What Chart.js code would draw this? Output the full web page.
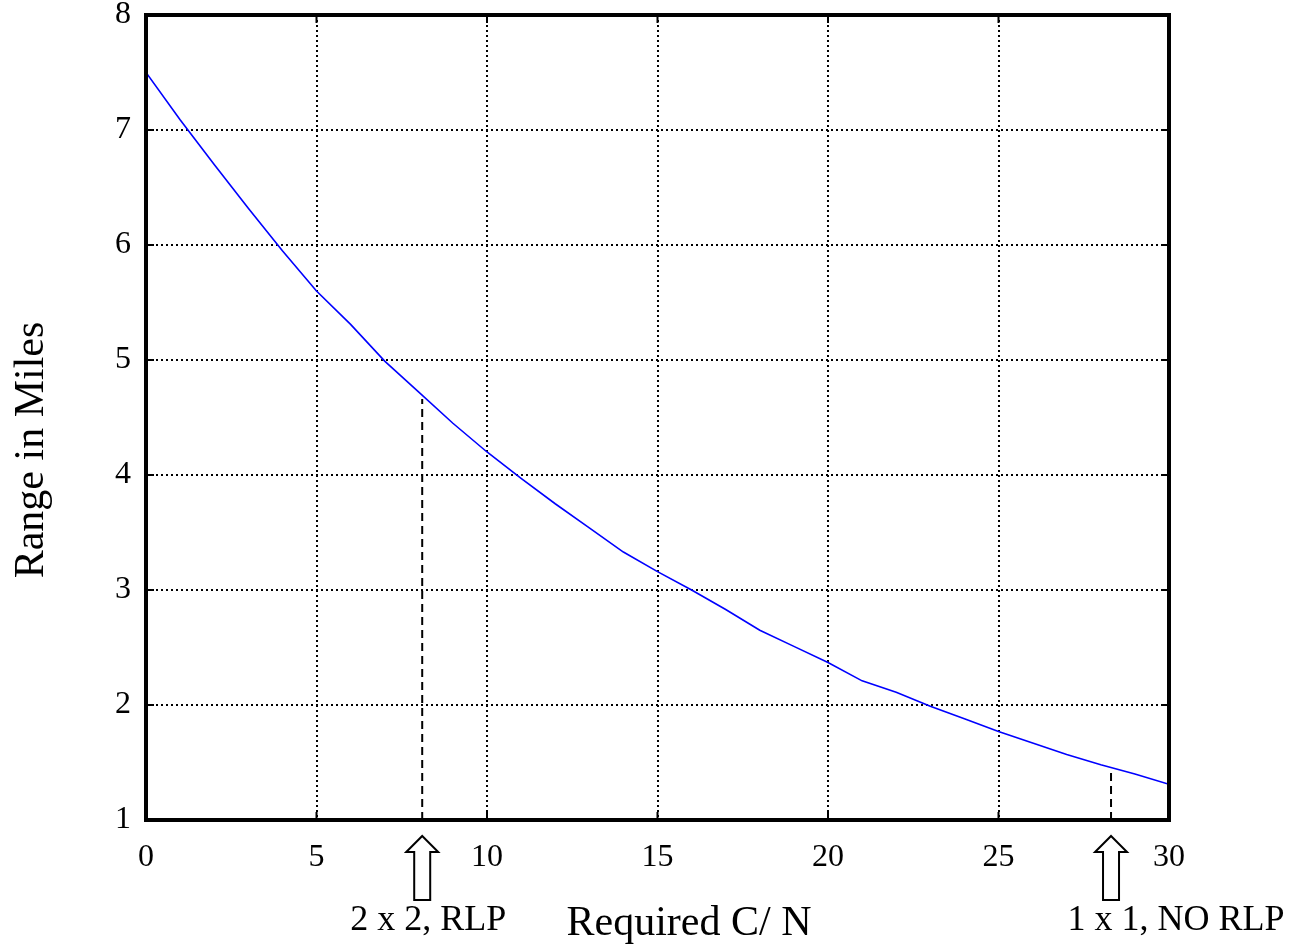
<!DOCTYPE html>
<html lang="en">
<head>
    <meta charset="UTF-8">
    <title>Range in Miles vs Required C/N</title>
    <script src="https://cdn.jsdelivr.net/npm/chart.js"></script>
    <style>
        body {
            margin: 0;
            background-color: white;
        }
        #rangeChart {
            display: block;
        }
    </style>
</head>
<body>
    <canvas id="rangeChart" width="1298" height="947"></canvas>

    <script>
        // values, one per integer C/N
        const cnValues = [0, 1, 2, 3, 4, 5, 6, 7, 8, 9, 10, 11, 12, 13, 14, 15,
                          16, 17, 18, 19, 20, 21, 22, 23, 24, 25, 26, 27, 28, 29, 30];
        const rangeMiles = [7.50, 7.09, 6.70, 6.32, 5.95, 5.60, 5.31, 4.99, 4.72, 4.45, 4.20,
                            3.97, 3.75, 3.54, 3.33, 3.16, 3.00, 2.83, 2.65, 2.51, 2.37,
                            2.21, 2.11, 1.99, 1.88, 1.77, 1.67, 1.57, 1.48, 1.40, 1.31];

        const xTicks = [0, 5, 10, 15, 20, 25, 30];
        const yTicks = [1, 2, 3, 4, 5, 6, 7, 8];

        // operating points marked under the axis
        const markerX = [8.1, 28.3];
        const markerTop = [4.66, 1.46];
        const markerLabels = ['2 x 2, RLP', '1 x 1, NO RLP'];

        const xTitle = 'Required C/ N';
        const yTitle = 'Range in Miles';

        const serif = "'Liberation Serif', 'Times New Roman', serif";

        const curve = cnValues.map((x, i) => ({ x: x, y: rangeMiles[i] }));
        const markerSets = markerX.map((x, i) => ({
            data: [{ x: x, y: 1 }, { x: x, y: markerTop[i] }],
            borderColor: '#000',
            borderWidth: 2,
            borderDash: [8, 5],
            pointRadius: 0
        }));

        // box, inner tick marks, arrows and texts (matlab look)
        const decorations = {
            id: 'decorations',
            afterDatasetsDraw(chart) {
                const ctx = chart.ctx;
                const a = chart.chartArea;
                const xs = chart.scales.x;
                const ys = chart.scales.y;
                ctx.save();

                ctx.strokeStyle = '#000';
                ctx.lineWidth = 2;
                ctx.beginPath();
                xTicks.slice(1, -1).forEach(v => {
                    const px = xs.getPixelForValue(v);
                    ctx.moveTo(px, a.bottom); ctx.lineTo(px, a.bottom - 8);
                    ctx.moveTo(px, a.top); ctx.lineTo(px, a.top + 8);
                });
                yTicks.slice(1, -1).forEach(v => {
                    const py = ys.getPixelForValue(v);
                    ctx.moveTo(a.left, py); ctx.lineTo(a.left + 8, py);
                    ctx.moveTo(a.right, py); ctx.lineTo(a.right - 8, py);
                });
                ctx.stroke();

                ctx.lineWidth = 4;
                ctx.strokeRect(a.left, a.top, a.right - a.left, a.bottom - a.top);

                // up arrows
                ctx.lineWidth = 2;
                ctx.fillStyle = '#fff';
                markerX.forEach(v => {
                    const cx = xs.getPixelForValue(v);
                    const tip = a.bottom + 16;
                    ctx.beginPath();
                    ctx.moveTo(cx, tip);
                    ctx.lineTo(cx + 16, tip + 16);
                    ctx.lineTo(cx + 8, tip + 16);
                    ctx.lineTo(cx + 8, tip + 64);
                    ctx.lineTo(cx - 8, tip + 64);
                    ctx.lineTo(cx - 8, tip + 16);
                    ctx.lineTo(cx - 16, tip + 16);
                    ctx.closePath();
                    ctx.fill();
                    ctx.stroke();
                });

                ctx.fillStyle = '#000';
                ctx.textBaseline = 'alphabetic';
                ctx.textAlign = 'center';
                ctx.font = '36px ' + serif;
                const labelShift = [6, 65];
                markerLabels.forEach((t, i) => {
                    ctx.fillText(t, xs.getPixelForValue(markerX[i]) + labelShift[i], a.bottom + 110);
                });

                ctx.font = '42px ' + serif;
                ctx.fillText(xTitle, 689, a.bottom + 115);

                ctx.translate(43, 450);
                ctx.rotate(-Math.PI / 2);
                ctx.fillText(yTitle, 0, 0);
                ctx.restore();
            }
        };

        new Chart(document.getElementById('rangeChart').getContext('2d'), {
            type: 'line',
            data: {
                datasets: [{
                    data: curve,
                    borderColor: '#0000ff',
                    borderWidth: 1.6,
                    pointRadius: 0,
                    tension: 0
                }].concat(markerSets)
            },
            options: {
                responsive: false,
                animation: false,
                layout: {
                    padding: { top: 15, right: 129, left: 0, bottom: 0 }
                },
                plugins: {
                    legend: { display: false },
                    tooltip: { enabled: false }
                },
                scales: {
                    x: {
                        type: 'linear',
                        min: 0,
                        max: 30,
                        afterBuildTicks: s => { s.ticks = xTicks.map(v => ({ value: v })); },
                        afterFit: s => {
                            s.height = 127;
                            s.paddingLeft = 0;
                            s.paddingRight = 0;
                        },
                        border: { display: false, dash: [2, 3] },
                        grid: {
                            color: '#000',
                            lineWidth: 2,
                            drawTicks: false
                        },
                        ticks: {
                            color: '#000',
                            padding: 18,
                            maxRotation: 0,
                            font: { family: serif, size: 32 }
                        }
                    },
                    y: {
                        min: 1,
                        max: 8,
                        afterBuildTicks: s => { s.ticks = yTicks.map(v => ({ value: v })); },
                        afterFit: s => {
                            s.width = 146;
                            s.paddingTop = 0;
                            s.paddingBottom = 0;
                        },
                        border: { display: false, dash: [2, 3] },
                        grid: {
                            color: '#000',
                            lineWidth: 2,
                            drawTicks: false
                        },
                        ticks: {
                            color: '#000',
                            padding: 15,
                            font: { family: serif, size: 32 }
                        }
                    }
                }
            },
            plugins: [decorations]
        });
    </script>
</body>
</html>
